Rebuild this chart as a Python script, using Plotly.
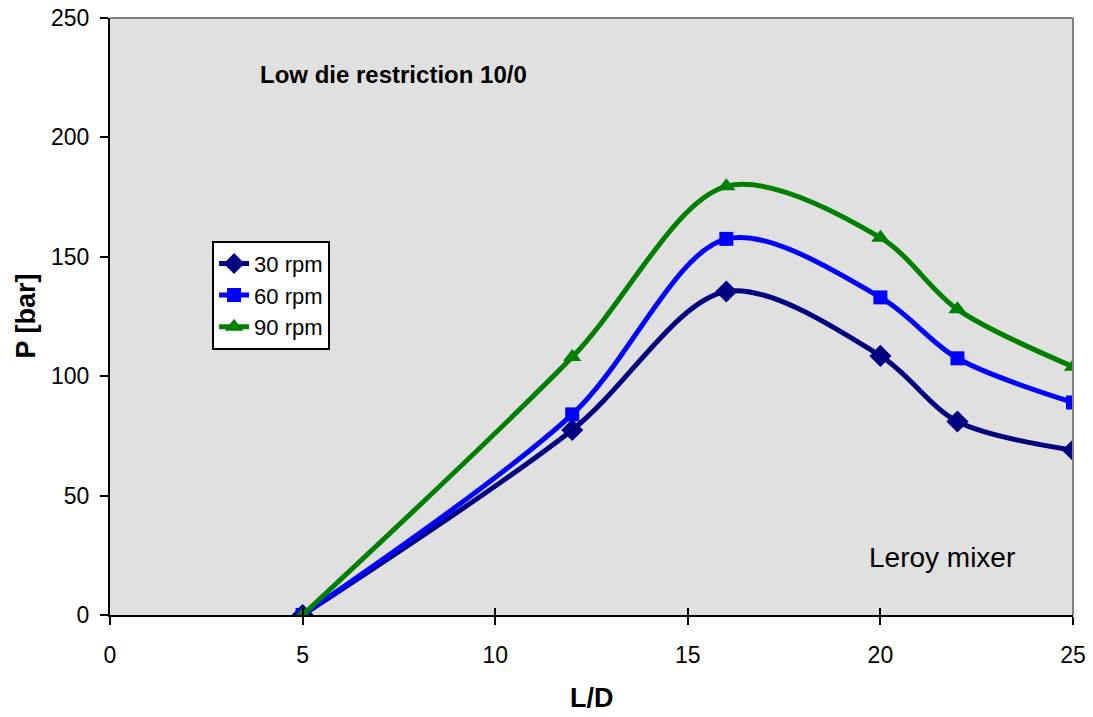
import plotly.graph_objects as go

ld = [5, 12, 16, 20, 22, 25]
p30 = [0, 77.5, 135.5, 108.5, 81, 69]
p60 = [0, 84, 157.5, 133, 107.5, 89]
p90 = [0, 108, 179.5, 158, 128, 104]

series = [
    ("30 rpm", p30, "#000080", "diamond", 17),
    ("60 rpm", p60, "#0000FF", "square", 14),
    ("90 rpm", p90, "#008000", "triangle-up", 16),
]

fig = go.Figure()
for name, ys, col, sym, ms in series:
    fig.add_trace(go.Scatter(
        x=ld, y=ys, name=name, mode="lines+markers",
        line=dict(color=col, width=5, shape="spline", smoothing=0.9),
        marker=dict(symbol=sym, size=ms, color=col),
    ))
# invisible helper trace for the inner half of the x ticks
fig.add_trace(go.Scatter(x=[0, 25], y=[0, 0], xaxis="x2", mode="none",
                         showlegend=False, hoverinfo="skip"))

fam = "Arial, Liberation Sans, sans-serif"
fig.update_layout(
    width=1093, height=717,
    margin=dict(l=110, r=20, t=18, b=102, autoexpand=False),
    paper_bgcolor="white", plot_bgcolor="#e0e0e0",
    font=dict(family=fam, size=23, color="black"),
    showlegend=True,
    legend=dict(x=0.106, y=0.627, xanchor="left", yanchor="top",
                bgcolor="white", bordercolor="black", borderwidth=2,
                font=dict(size=22), tracegroupgap=0),
    xaxis=dict(range=[0, 25], dtick=5, showgrid=False, zeroline=False,
               showline=True, linecolor="black", linewidth=2, ticks="outside",
               ticklen=8, tickwidth=2, tickcolor="black", automargin=False,
               ticklabeloverflow="allow", ticklabelstandoff=10),
    xaxis2=dict(range=[0, 25], dtick=5, overlaying="x", side="bottom",
                anchor="y", showgrid=False, zeroline=False, showline=False,
                ticks="inside", ticklen=7, tickwidth=2, tickcolor="black",
                showticklabels=False, automargin=False),
    yaxis=dict(range=[0, 250], dtick=50, showgrid=False, zeroline=False,
               showline=True, linecolor="black", linewidth=2, ticks="outside",
               ticklen=8, tickwidth=2, tickcolor="black", automargin=False,
               ticklabeloverflow="allow", ticklabelstandoff=6),
    shapes=[
        dict(type="line", xref="paper", yref="paper", x0=0, x1=1, y0=1, y1=1,
             line=dict(color="gray", width=2)),
        dict(type="line", xref="paper", yref="paper", x0=1, x1=1, y0=0, y1=1,
             line=dict(color="gray", width=2)),
    ],
    annotations=[
        dict(text="<b>Low die restriction 10/0</b>", x=0.1537, y=0.905,
             xref="paper", yref="paper", xanchor="left", yanchor="middle",
             showarrow=False, font=dict(size=24)),
        dict(text="Leroy mixer", x=0.942, y=0.097,
             xref="paper", yref="paper", xanchor="right", yanchor="middle",
             showarrow=False, font=dict(size=28)),
        dict(text="<b>L/D</b>", x=0.5, y=0, xref="paper", yref="paper",
             xanchor="center", yanchor="middle", yshift=-83,
             showarrow=False, font=dict(size=27)),
        dict(text="<b>P [bar]</b>", x=0, y=0.5, xref="paper", yref="paper",
             xanchor="center", yanchor="middle", xshift=-85, textangle=-90,
             showarrow=False, font=dict(size=27)),
    ],
)
fig.write_html("out.html", config={"displayModeBar": False},
               post_script="document.body.style.margin='0';document.body.style.overflow='hidden';")
